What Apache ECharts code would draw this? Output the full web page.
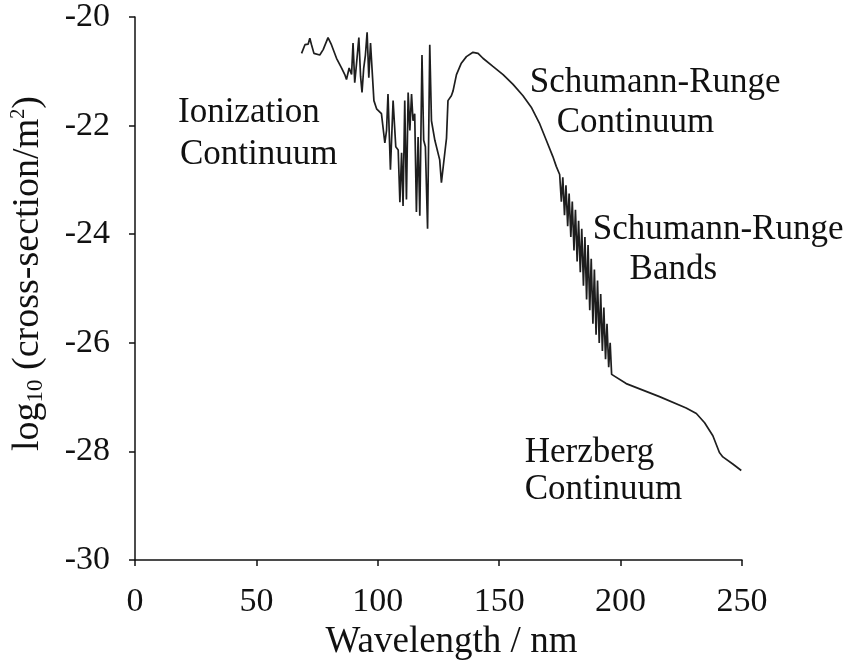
<!DOCTYPE html>
<html>
<head>
<meta charset="utf-8">
<script src="https://cdn.jsdelivr.net/npm/echarts@6/dist/echarts.min.js"></script>
<style>html,body{margin:0;padding:0;background:#fff}#c{width:845px;height:666px}</style>
</head>
<body>
<div id="c"></div>
<script>
// Wavelength (nm) and log10(cross-section / m^2)
const wavelength = [
  68.6, 70.0, 71.3, 72.0, 72.7, 73.7, 76.1, 77.5, 79.5, 80.9, 83.0, 85.1, 86.4, 87.1, 88.2, 89.2,
  89.8, 90.5, 91.2, 92.2, 92.9, 93.5, 94.2, 94.9, 95.6, 96.3, 97.0, 97.7, 98.4, 99.5, 101.5, 102.9,
  103.6, 104.2, 105.2, 106.3, 107.4, 108.4, 109.1, 109.8, 110.4, 111.1, 111.8, 112.5, 113.2, 113.9,
  114.5, 115.2, 115.9, 116.6, 117.3, 118.2, 118.9, 119.6, 120.5, 121.4, 122.1, 123.5, 125.5, 126.2,
  127.6, 128.3, 128.9, 130.3, 131.0, 132.4, 134.4, 136.5, 139.2, 141.3, 143.3, 147.4, 151.6, 155.7,
  159.8, 163.2, 166.7, 169.4, 172.1, 173.5, 174.9,
  175.6, 176.2, 176.9, 177.5, 178.2, 178.8, 179.5, 180.1, 180.8, 181.4, 182.1, 182.7, 183.4, 184.0,
  184.7, 185.3, 186.0, 186.6, 187.3, 187.9, 188.6, 189.2, 189.9, 190.5, 191.2, 191.8, 192.5, 193.1,
  193.8, 194.4, 195.1, 195.7, 196.3,
  196.7, 202.3, 216.0, 227.0, 231.2, 234.6, 238.0, 240.7, 242.1, 246.2, 249.7
];
const logSigma = [
  -20.67, -20.51, -20.50, -20.39, -20.51, -20.67, -20.70, -20.60, -20.38, -20.51, -20.76, -20.94, -21.06, -21.15, -20.94, -21.06,
  -20.48, -21.21, -20.88, -20.38, -21.09, -21.39, -20.94, -20.70, -20.28, -21.12, -20.48, -20.51, -21.54, -21.69, -21.78, -22.32,
  -22.09, -21.42, -22.81, -21.54, -22.39, -22.45, -23.41, -22.50, -23.48, -21.54, -23.36, -21.39, -22.09, -21.42,
  -21.91, -21.78, -23.59, -22.21, -23.66, -20.70, -22.27, -22.39, -23.90, -20.51, -21.91, -22.27, -22.63, -23.05,
  -22.50, -22.23, -21.54, -21.45, -21.36, -21.06, -20.85, -20.73, -20.65, -20.67, -20.76, -20.91, -21.06, -21.24,
  -21.45, -21.66, -21.97, -22.27, -22.57, -22.75, -22.90,
  -23.40, -22.95, -23.65, -23.10, -23.85, -23.25, -24.05, -23.40, -24.30, -23.55, -24.50, -23.75, -24.70, -23.90,
  -24.95, -24.05, -25.20, -24.20, -25.40, -24.45, -25.65, -24.65, -25.85, -24.85, -26.00, -25.10, -26.15, -25.35,
  -26.30, -25.65, -26.45, -26.00, -26.58,
  -26.59, -26.75, -26.99, -27.20, -27.30, -27.47, -27.71, -28.02, -28.10, -28.23, -28.35
];
// Region labels: text, anchor wavelength, anchor log value (left edge, vertical middle)
const noteText = ['Ionization', 'Continuum', 'Schumann-Runge', 'Continuum', 'Schumann-Runge', 'Bands', 'Herzberg', 'Continuum'];
const noteX    = [17.7, 18.5, 162.6, 173.7, 188.5, 203.7, 160.5, 160.5];
const noteY    = [-21.76, -22.54, -21.22, -21.94, -23.92, -24.65, -28.02, -28.71];

const FONT = '"Liberation Serif", "Times New Roman", serif';
const INK = '#111111';

const chart = echarts.init(document.getElementById('c'), null, { renderer: 'canvas' });
chart.setOption({
  backgroundColor: '#ffffff',
  animation: false,
  grid: { left: 135, right: 103, top: 15, bottom: 100, containLabel: false },
  xAxis: {
    type: 'value', min: 0, max: 250, interval: 50,
    name: 'Wavelength / nm', nameLocation: 'middle', nameGap: 59,
    nameTextStyle: { fontFamily: FONT, fontSize: 37, color: INK, padding: [0, 0, 0, 26] },
    axisLine: { show: true, lineStyle: { color: INK, width: 1.5 } },
    axisTick: { show: true, inside: false, length: 6, lineStyle: { color: INK, width: 1.5 } },
    axisLabel: { fontFamily: FONT, fontSize: 34, color: INK, margin: 25 },
    splitLine: { show: false }
  },
  yAxis: {
    type: 'value', min: -30, max: -20, interval: 2,
    name: 'log{sub|10} (cross-section/m{sup|2})', nameLocation: 'middle', nameGap: 88, nameRotate: 90,
    nameTextStyle: {
      fontFamily: FONT, fontSize: 38, color: INK, padding: [0, 0, 0, 30],
      rich: {
        sub: { fontFamily: FONT, fontSize: 23, color: INK, verticalAlign: 'bottom', padding: [13, 0, 0, 0] },
        sup: { fontFamily: FONT, fontSize: 20, color: INK, verticalAlign: 'top', padding: [0, 0, 15, 0] }
      }
    },
    axisLine: { show: true, lineStyle: { color: INK, width: 1.5 } },
    axisTick: { show: true, inside: false, length: 6, lineStyle: { color: INK, width: 1.5 } },
    axisLabel: { fontFamily: FONT, fontSize: 34, color: INK, margin: 25 },
    splitLine: { show: false }
  },
  series: [
    {
      type: 'line',
      data: wavelength.map((x, i) => [x, logSigma[i]]),
      showSymbol: false, symbol: 'none',
      lineStyle: { color: '#1e1e1e', width: 1.7 },
      clip: false
    },
    {
      type: 'scatter',
      data: noteText.map((t, i) => ({ value: [noteX[i], noteY[i]], name: t })),
      symbolSize: 0,
      clip: false,
      silent: true,
      itemStyle: { opacity: 1 },
      label: {
        show: true, position: [0, 0], align: 'left', verticalAlign: 'middle',
        formatter: p => p.name, opacity: 1,
        fontFamily: FONT, fontSize: 35, color: INK
      }
    }
  ]
});
</script>
</body>
</html>
